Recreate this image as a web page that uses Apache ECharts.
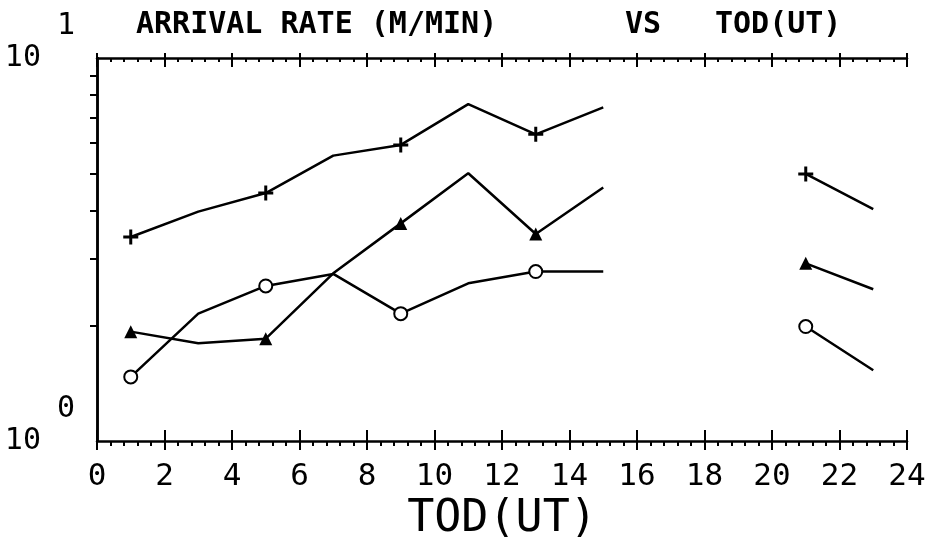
<!DOCTYPE html>
<html>
<head>
<meta charset="utf-8">
<script src="https://cdn.jsdelivr.net/npm/echarts@6/dist/echarts.min.js"></script>
<style>
html,body{margin:0;padding:0;background:#fff;}
#chart{width:938px;height:537px;}
</style>
</head>
<body>
<div id="chart"></div>
<script>
// ---- data ----
var hours = [1, 3, 5, 7, 9, 11, 13, 15, 21, 23];
var markerHours = [1, 5, 9, 13, 21];
var plusSeries     = [3.41, 3.97, 4.44, 5.56, 5.93, 7.58, 6.32, 7.43, 4.98, 4.03];
var triangleSeries = [1.93, 1.80, 1.85, 2.74, 3.70, 5.00, 3.47, 4.59, 2.91, 2.49];
var circleSeries   = [1.47, 2.15, 2.54, 2.73, 2.15, 2.58, 2.77, 2.77, 1.99, 1.53];
var xTicks = [0, 2, 4, 6, 8, 10, 12, 14, 16, 18, 20, 22, 24];
var yLabelValues = [1, 10];
var yMinorTickValues = [2, 3, 4, 5, 6, 7, 8, 9];
var titleParts = ['ARRIVAL RATE (M/MIN)', 'VS', 'TOD(UT)'];
var xName = 'TOD(UT)';

var FONT = 'DejaVu Sans Mono';

function buildData(vals) {
  var out = [];
  for (var i = 0; i < hours.length; i++) {
    if (i > 0 && hours[i] - hours[i - 1] > 2) {
      out.push({ value: [(hours[i] + hours[i - 1]) / 2, '-'] });
    }
    var item = { value: [hours[i], vals[i]] };
    if (markerHours.indexOf(hours[i]) < 0) item.symbol = 'none';
    out.push(item);
  }
  return out;
}

var lineStyle = { color: '#000', width: 2.5 };
function mkSeries(name, vals, symbol, size, itemStyle) {
  return {
    name: name, type: 'line', data: buildData(vals),
    xAxisIndex: 0, yAxisIndex: 0,
    symbol: symbol, symbolSize: size, showSymbol: true,
    connectNulls: false, lineStyle: lineStyle, itemStyle: itemStyle,
    emphasis: { disabled: true }, animation: false, z: 3
  };
}

var baseX = { type: 'value', min: 0, max: 24, interval: 2, splitLine: { show: false } };
function xa(extra) { return Object.assign({}, baseX, extra); }

var titleStyle = { fontFamily: FONT, fontSize: 30, fontWeight: 'bold', color: '#000' };

var chart = echarts.init(document.getElementById('chart'), null, { renderer: 'canvas' });
chart.setOption({
  backgroundColor: '#fff',
  animation: false,
  title: [
    { text: titleParts[0], left: 131, top: 5, textStyle: titleStyle },
    { text: titleParts[1], left: 620, top: 5, textStyle: titleStyle },
    { text: titleParts[2], left: 710, top: 5, textStyle: titleStyle }
  ],
  grid: { left: 97, right: 31, top: 58, bottom: 96, containLabel: false, outerBoundsMode: 'none' },
  xAxis: [
    xa({ position: 'bottom', name: xName, nameLocation: 'middle', nameGap: 54,
      nameTextStyle: { fontFamily: FONT, fontSize: 45, color: '#000' },
      axisLine: { show: true, lineStyle: { color: '#000', width: 2.5 } },
      axisTick: { show: true, inside: false, length: 9, lineStyle: { color: '#000', width: 2 } },
      minorTick: { show: true, splitNumber: 5, length: 5, lineStyle: { color: '#000', width: 2 } },
      axisLabel: { show: true, margin: 20, fontFamily: FONT, fontSize: 31, color: '#000',
        formatter: function (v) { return xTicks.indexOf(v) >= 0 ? String(v) : ''; } } }),
    xa({ position: 'bottom', axisLine: { show: false },
      axisTick: { show: true, inside: true, length: 11, lineStyle: { color: '#000', width: 2 } },
      axisLabel: { show: false } }),
    xa({ position: 'top', axisLine: { show: true, lineStyle: { color: '#000', width: 2.5 } },
      axisTick: { show: true, inside: true, length: 9, lineStyle: { color: '#000', width: 2 } },
      minorTick: { show: true, splitNumber: 5, length: 4, lineStyle: { color: '#000', width: 2 } },
      axisLabel: { show: false } }),
    xa({ position: 'top', axisLine: { show: false },
      axisTick: { show: true, inside: false, length: 5, lineStyle: { color: '#000', width: 2 } },
      axisLabel: { show: false } })
  ],
  yAxis: [
    { type: 'log', logBase: 10, min: 1, max: 10, position: 'left',
      splitLine: { show: false },
      axisLine: { show: true, lineStyle: { color: '#000', width: 2.5 } },
      axisTick: { show: true, inside: false, length: 7, customValues: yMinorTickValues, lineStyle: { color: '#000', width: 2 } },
      axisLabel: { show: true, margin: 22, customValues: yLabelValues,
        formatter: function (v) { return '{b|10}{s|' + Math.round(Math.log10(v)) + '}'; },
        rich: {
          b: { fontFamily: FONT, fontSize: 30, color: '#000' },
          s: { fontFamily: FONT, fontSize: 30, color: '#000', padding: [0, 0, 64, 16] }
        } } },
    { type: 'log', logBase: 10, min: 1, max: 10, position: 'right',
      splitLine: { show: false },
      axisLine: { show: true, lineStyle: { color: '#000', width: 2.5 } },
      axisTick: { show: false }, axisLabel: { show: false } }
  ],
  series: [
    mkSeries('plus', plusSeries, 'path://M5.6,0H8.4V5.6H14V8.4H8.4V14H5.6V8.4H0V5.6H5.6Z', 15, { color: '#000' }),
    mkSeries('triangle', triangleSeries, 'triangle', 13, { color: '#000' }),
    mkSeries('circle', circleSeries, 'emptyCircle', 13, { color: '#000', borderColor: '#000', borderWidth: 2.5 })
  ]
});
</script>
</body>
</html>
